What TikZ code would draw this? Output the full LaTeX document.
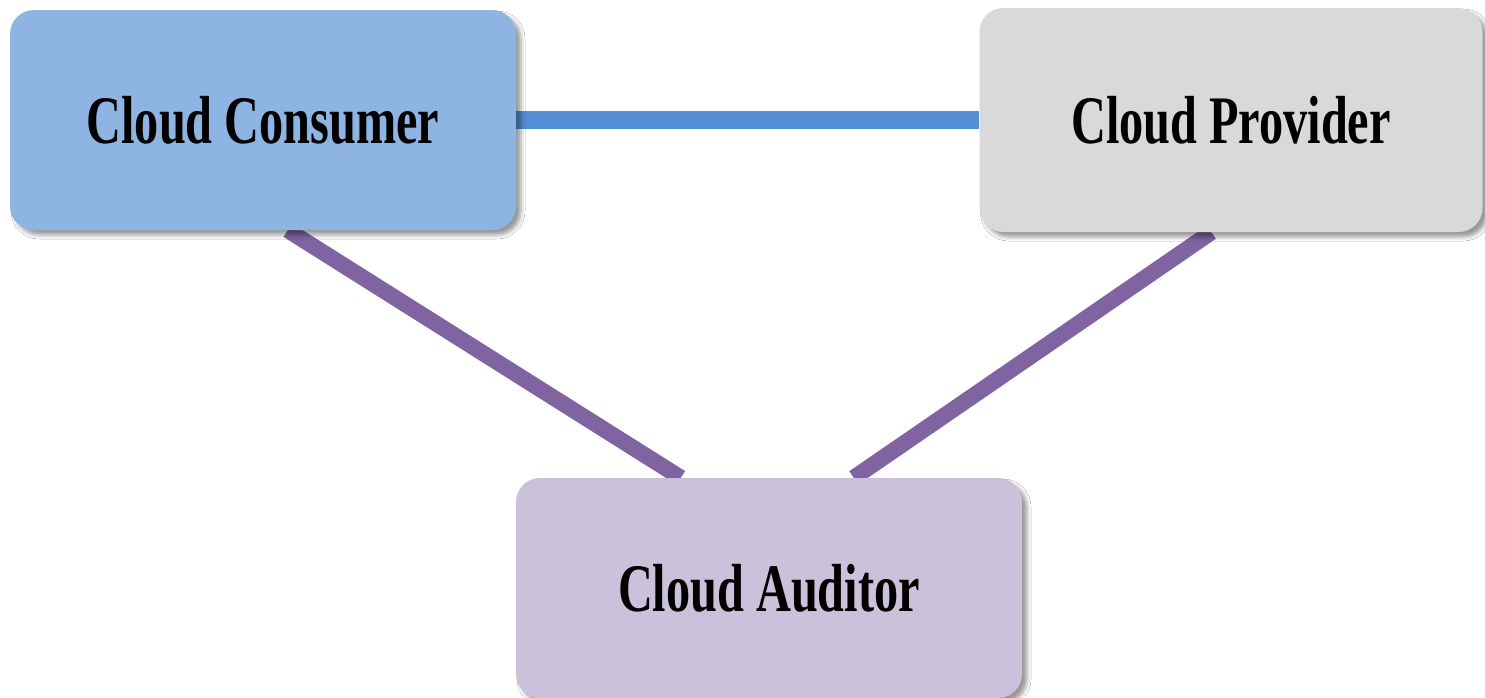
\documentclass[tikz,border=0pt]{standalone}
\usepackage{fontspec}
\usepackage{graphicx}
\setmainfont{Liberation Serif}
\usetikzlibrary{calc,shadows.blur}
\pgfdeclarelayer{background}
\pgfsetlayers{background,main}

\definecolor{consumerfill}{HTML}{8EB4E3}
\definecolor{providerfill}{HTML}{D9D9D9}
\definecolor{auditorfill}{HTML}{CCC1DA}
\definecolor{linkblue}{HTML}{558ED5}
\definecolor{linkpurple}{HTML}{8064A2}

\newcommand{\boxlabel}[1]{\scalebox{0.71}[1]{\fontsize{68}{80}\selectfont\bfseries #1}}

\tikzset{
  rolebox/.style={rounded corners=24pt, minimum width=506pt, minimum height=220pt,
    inner sep=0pt, draw=none,
    blur shadow={shadow xshift=5pt, shadow yshift=-5pt, shadow blur radius=4pt, shadow opacity=40}},
  bluelink/.style={line width=18pt, linkblue},
  purplelink/.style={line width=16pt, linkpurple}
}

\begin{document}
\begin{tikzpicture}[x=1pt,y=-1pt]
  \useasboundingbox (0,0) rectangle (1485,697);

  \node[rolebox, fill=consumerfill] (cons) at (263,120) {\boxlabel{Cloud Consumer}};
  \node[rolebox, fill=providerfill, minimum width=503pt, minimum height=224pt] (prov) at (1231,120) {\boxlabel{Cloud Provider}};
  \node[rolebox, fill=auditorfill] (aud) at (769,588) {\boxlabel{Cloud Auditor}};

  \coordinate (consfoot) at ($(cons.south west)+(278,0)$);
  \coordinate (provfoot) at ($(prov.south west)+(232,0)$);
  \coordinate (audleft) at ($(aud.north west)+(165,0)$);
  \coordinate (audright) at ($(aud.north west)+(338,0)$);

  \begin{pgfonlayer}{background}
    \fill[white] (0,0) rectangle (1485,697);
    \draw[bluelink] (cons.east) -- (prov.west);
    \draw[purplelink] (consfoot) -- (audleft);
    \draw[purplelink] (provfoot) -- (audright);
  \end{pgfonlayer}
\end{tikzpicture}
\end{document}
